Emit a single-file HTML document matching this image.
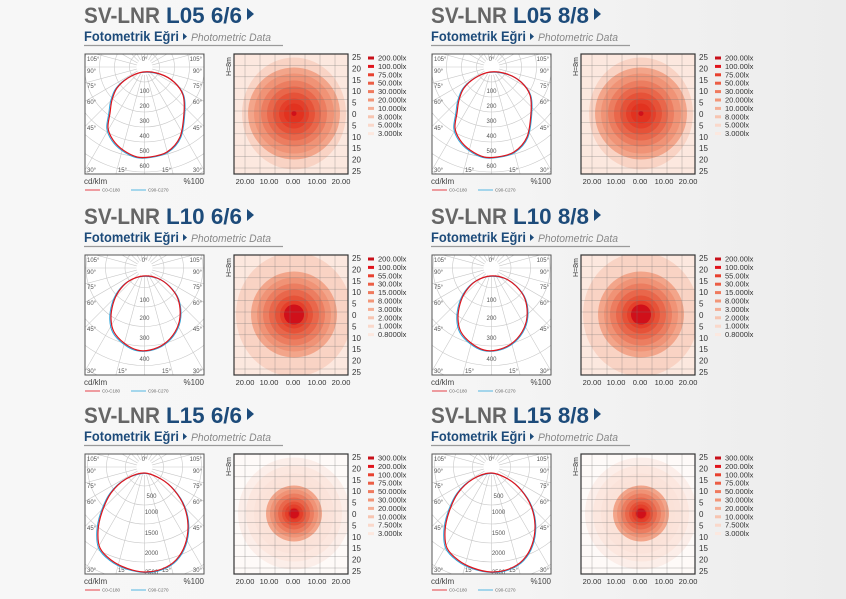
<!DOCTYPE html>
<html><head><meta charset="utf-8">
<style>
html,body{margin:0;padding:0;width:846px;height:599px;overflow:hidden}
body{background:linear-gradient(90deg,#f7f7f7 0%,#f6f6f6 50%,#ececec 100%);font-family:"Liberation Sans",sans-serif;position:relative}
svg{position:absolute;left:0;top:0;display:block}
</style></head><body>
<svg id="s" width="846" height="599" viewBox="0 0 846 599" xmlns="http://www.w3.org/2000/svg"></svg>
<script>
const S=document.getElementById('s');let h='';
const BLUE='#1d4b7a',GRAY='#666';
const panels=[
 {x:84,y:0,t:'L05 6/6',k:0},{x:431,y:0,t:'L05 8/8',k:0},
 {x:84,y:201,t:'L10 6/6',k:1},{x:431,y:201,t:'L10 8/8',k:1},
 {x:84,y:400,t:'L15 6/6',k:2},{x:431,y:400,t:'L15 8/8',k:2}];
const legends=[
 ['200.00lx','100.00lx','75.00lx','50.00lx','30.000lx','20.000lx','10.000lx','8.000lx','5.000lx','3.000lx'],
 ['200.00lx','100.00lx','55.00lx','30.00lx','15.000lx','8.000lx','3.000lx','2.000lx','1.000lx','0.8000lx'],
 ['300.00lx','200.00lx','100.00lx','75.00lx','50.000lx','30.000lx','20.000lx','10.000lx','7.500lx','3.000lx']];
const swc=['#c8101a','#e0141c','#e8402e','#ec5e45','#ef7a5e','#f29678','#f5ae95','#f7c4b0','#fad8ca','#fce8df'];
const ringLab=[[['100',91],['200',106],['300',121],['400',136],['500',151],['600',166]],
 [['100',99],['200',117],['300',137],['400',158]],
 [['500',96],['1000',112],['1500',133],['2000',153],['2500',172]]];
const ringSp=[15,19.5,19];
const curves=[
 [[59,72],[44,78],[33,88],[28,100],[26,113],[24,128],[29,140],[39,150],[53,157],[66,157],[83,152],[96,137],[100,113],[99,95],[90,82],[76,74]],
 [[59,75],[45,80],[35,90],[29,103],[27,118],[30,131],[40,142],[53,149],[66,149],[80,143],[91,131],[96,116],[94,98],[85,85],[73,77]],
 [[60,73],[42,79],[27,93],[18,112],[14,131],[16,148],[27,160],[42,168],[60,172],[78,169],[92,160],[101,145],[104,125],[100,106],[90,90],[77,79]]];
function smooth(pts,dx,dy){let p=pts.map(a=>[a[0]+dx,a[1]+dy]);let n=p.length,d=`M${p[0][0]},${p[0][1]}`;
 for(let i=0;i<n;i++){const p0=p[(i-1+n)%n],p1=p[i],p2=p[(i+1)%n],p3=p[(i+2)%n];
 const c1=[p1[0]+(p2[0]-p0[0])/6,p1[1]+(p2[1]-p0[1])/6],c2=[p2[0]-(p3[0]-p1[0])/6,p2[1]-(p3[1]-p1[1])/6];
 d+=`C${c1[0].toFixed(1)},${c1[1].toFixed(1)} ${c2[0].toFixed(1)},${c2[1].toFixed(1)} ${p2[0]},${p2[1]}`;}return d+'Z';}
const iso=[
 {r:[46,40,33,27,21,15,10],core:2.5,halo:52},
 {r:[43,37,31,25,19,14,10],core:10,halo:58},
 {r:[28,24,20,16,12,9,6],core:5,halo:56}];
const isoC=['#f3a58a','#f09376','#ec7d60','#e9674b','#e65238','#e43f2a','#e2321f'];
panels.forEach((P,pi)=>{
 const X=P.x,Y=P.y;
 h+=`<text x="${X}" y="${Y+23}" font-size="22" font-weight="bold" fill="${GRAY}" textLength="76" lengthAdjust="spacingAndGlyphs">SV-LNR</text>`;
 h+=`<text x="${X+82}" y="${Y+23}" font-size="22" font-weight="bold" fill="${BLUE}" textLength="76" lengthAdjust="spacingAndGlyphs">${P.t}</text>`;
 h+=`<polygon points="${X+163},${Y+8} ${X+170},${Y+14} ${X+163},${Y+20}" fill="${BLUE}"/>`;
 h+=`<text x="${X}" y="${Y+41}" font-size="14" font-weight="bold" fill="${BLUE}" textLength="95" lengthAdjust="spacingAndGlyphs">Fotometrik Eğri</text>`;
 h+=`<polygon points="${X+99},${Y+33} ${X+103},${Y+36.5} ${X+99},${Y+40}" fill="${BLUE}"/>`;
 h+=`<text x="${X+107}" y="${Y+41}" font-size="11" font-style="italic" fill="#888" textLength="80" lengthAdjust="spacingAndGlyphs">Photometric Data</text>`;
 h+=`<line x1="${X}" y1="${Y+45.5}" x2="${X+199}" y2="${Y+45.5}" stroke="#9a9a9a" stroke-width="1.2"/>`;
 const bx=X+1,by=Y+54,bw=119,bh=120,cx=X+60.5,cy=Y+67,k=P.k;
 h+=`<clipPath id="c${pi}"><rect x="${bx}" y="${by}" width="${bw}" height="${bh}"/></clipPath>`;
 h+=`<rect x="${bx}" y="${by}" width="${bw}" height="${bh}" fill="#fff"/>`;
 h+=`<g clip-path="url(#c${pi})" stroke="#c8c8c8" stroke-width="0.6" fill="none">`;
 for(let i=1;i<=9;i++)h+=`<circle cx="${cx}" cy="${cy}" r="${(i*ringSp[k]).toFixed(1)}"/>`;
 for(let a=-180;a<=180;a+=15){const t=a*Math.PI/180;h+=`<line x1="${cx+8*Math.sin(t)}" y1="${cy+8*Math.cos(t)}" x2="${cx+200*Math.sin(t)}" y2="${cy+200*Math.cos(t)}"/>`;}
 h+=`</g><circle cx="${cx}" cy="${cy}" r="7" fill="#fff"/>`;
 h+=`<rect x="${bx}" y="${by}" width="${bw}" height="${bh}" fill="none" stroke="#555" stroke-width="1"/>`;
 const fs='font-size="6" fill="#555"';
 [['105°',61],['90°',73],['75°',88],['60°',104],['45°',130],['30°',172]].forEach(([l,yy])=>{
  h+=`<text x="${bx+2}" y="${Y+yy}" ${fs}>${l}</text><text x="${bx+bw-2}" y="${Y+yy}" ${fs} text-anchor="end">${l}</text>`;});
 h+=`<text x="${cx}" y="${Y+61}" ${fs} text-anchor="middle">0°</text>`;
 h+=`<text x="${cx-22}" y="${Y+172}" ${fs} text-anchor="middle">15°</text><text x="${cx+22}" y="${Y+172}" ${fs} text-anchor="middle">15°</text>`;
 ringLab[k].forEach(([l,yy])=>{h+=`<text x="${cx+(k==2?7:0)}" y="${Y+yy+2}" ${fs} text-anchor="middle">${l}</text>`;});
 const cv=curves[k];
 h+=`<path d="${smooth(cv.map((p,i)=>[p[0]+(p[0]<60?-1.2:0.8),p[1]+0.5]),X,Y)}" fill="none" stroke="#2aa6dc" stroke-width="1"/>`;
 h+=`<path d="${smooth(cv,X,Y)}" fill="none" stroke="#e0141c" stroke-width="1.2"/>`;
 h+=`<text x="${X}" y="${Y+184}" font-size="8" fill="#444">cd/klm</text><text x="${X+120}" y="${Y+184}" font-size="8" fill="#444" text-anchor="end">%100</text>`;
 h+=`<line x1="${X+1}" y1="${Y+190}" x2="${X+16}" y2="${Y+190}" stroke="#e0141c" stroke-width="0.8"/><text x="${X+18}" y="${Y+191.5}" font-size="4.5" fill="#666">C0-C180</text>`;
 h+=`<line x1="${X+47}" y1="${Y+190}" x2="${X+62}" y2="${Y+190}" stroke="#2aa6dc" stroke-width="0.8"/><text x="${X+64}" y="${Y+191.5}" font-size="4.5" fill="#666">C90-C270</text>`;
 const ix=X+150,iy=Y+54,iw=114,ih=120,icx=X+210,icy=Y+113.5,I=iso[k];
 h+=`<clipPath id="d${pi}"><rect x="${ix}" y="${iy}" width="${iw}" height="${ih}"/></clipPath>`;
 h+=`<rect x="${ix}" y="${iy}" width="${iw}" height="${ih}" fill="${k==2?'#fefaf8':'#fce8df'}"/>`;
 h+=`<g clip-path="url(#d${pi})">`;
 if(k==2){[56,48,40,34].forEach((r,i)=>h+=`<circle cx="${icx}" cy="${icy}" r="${r}" fill="#fbe1d7" fill-opacity="${0.45+i*0.1}"/>`);}
 else h+=`<ellipse cx="${icx}" cy="${icy}" rx="${I.halo}" ry="${I.halo+4}" fill="#f9d3c4"/>`;
 I.r.forEach((r,i)=>h+=`<circle cx="${icx}" cy="${icy}" r="${r}" fill="${isoC[i]}"/>`);
 h+=`<circle cx="${icx}" cy="${icy}" r="${I.core}" fill="#d0101a"/>`;
 for(let gx=ix+11;gx<ix+iw;gx+=15)h+=`<line x1="${gx}" y1="${iy}" x2="${gx}" y2="${iy+ih}" stroke="#777" stroke-width="0.5" stroke-opacity="0.6"/>`;
 for(let gy=iy+11.4;gy<iy+ih;gy+=11.4)h+=`<line x1="${ix}" y1="${gy}" x2="${ix+iw}" y2="${gy}" stroke="#777" stroke-width="0.5" stroke-opacity="0.6"/>`;
 h+=`</g><rect x="${ix}" y="${iy}" width="${iw}" height="${ih}" fill="none" stroke="#333" stroke-width="1.2"/>`;
 h+=`<text transform="translate(${ix-3},${iy+22}) rotate(-90)" font-size="7" fill="#333">H=8m</text>`;
 ['25','20','15','10','5','0','5','10','15','20','25'].forEach((l,i)=>h+=`<text x="${ix+iw+4}" y="${iy+6+i*11.4}" font-size="8" fill="#333">${l}</text>`);
 ['20.00','10.00','0.00','10.00','20.00'].forEach((l,i)=>h+=`<text x="${ix+11+i*24}" y="${Y+184}" font-size="7.5" fill="#333" text-anchor="middle">${l}</text>`);
 legends[k].forEach((l,i)=>{const yy=Y+58+i*8.4;h+=`<rect x="${X+284}" y="${yy-1.5}" width="6" height="3" fill="${swc[i]}"/><text x="${X+294}" y="${yy+2.5}" font-size="7.5" fill="#333">${l}</text>`;});
});
S.innerHTML=h;
</script>
</body></html>
